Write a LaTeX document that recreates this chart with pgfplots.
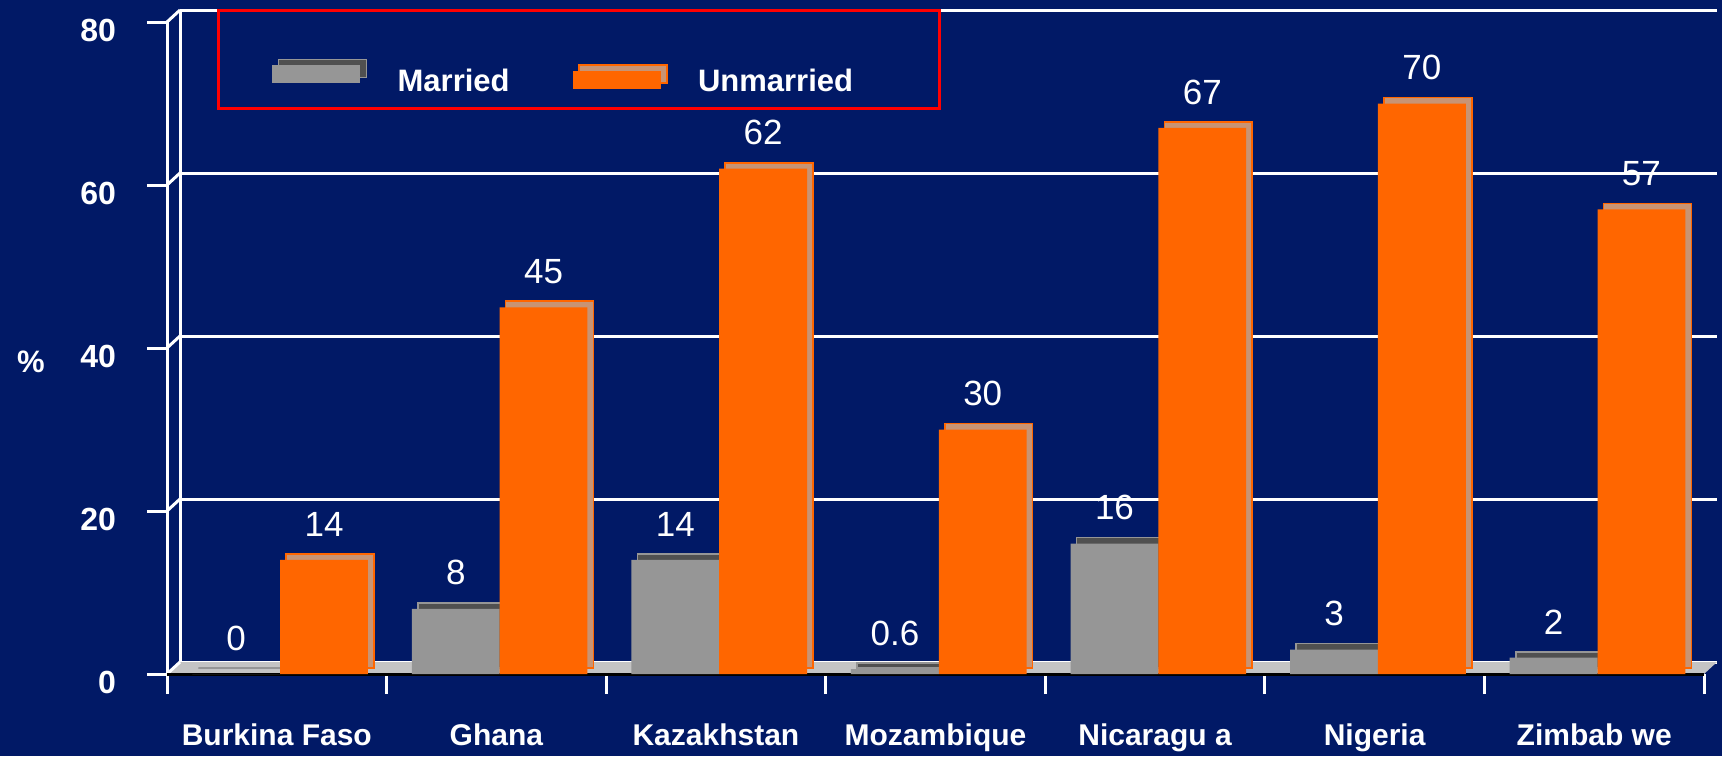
\documentclass[border=0pt]{standalone}
\usepackage{fontspec}
\setmainfont{Liberation Sans}
\usepackage{pgfplots}
\pgfplotsset{compat=1.18}
\definecolor{navy}{HTML}{011966}
\definecolor{barorange}{HTML}{FF6600}
\definecolor{bartan}{HTML}{C89474}
\definecolor{bargrey}{HTML}{969696}
\definecolor{bardark}{HTML}{505050}
\definecolor{floorgrey}{HTML}{C4C4C4}
\begin{document}
\begin{tikzpicture}
\fill[navy] (0,0) rectangle (861pt,378pt);
\path[use as bounding box] (0,0) rectangle (861pt,378pt);
\begin{axis}[
  at={(83.5pt,41pt)}, anchor=south west,
  scale only axis, width=768.5pt, height=326pt,
  xmin=-0.5, xmax=6.5, ymin=0, ymax=80,
  clip=false,
  axis lines=left,
  axis line style={-},
  x axis line style={black, line width=1.5pt},
  y axis line style={white, line width=1.5pt},
  xtick={-0.5,0.5,...,6.5}, xticklabels={,,,,,,,},
  extra x ticks={0,1,2,3,4,5,6},
  extra x tick labels={Burkina Faso, Ghana, Kazakhstan, Mozambique, Nicaragu a, Nigeria, Zimbab we},
  extra x tick style={major tick length=0pt},
  ytick={0,20,...,80},
  tick align=outside, major tick length=10pt,
  tick style={white, line width=1.5pt},
  ymajorgrids,
  major grid style={white, line width=1.5pt, xshift=6.5pt, yshift=6pt},
  /pgf/number format/assume math mode=true,
  tick label style={white},
  xticklabel style={yshift=-21.5pt, font=\fontsize{15}{18}\selectfont\bfseries},
  yticklabel style={anchor=east, xshift=-12pt, yshift=-4.4pt, font=\fontsize{16}{18}\selectfont\bfseries},
  ylabel={\%},
  every axis y label/.style={at={(axis description cs:-0.0885,0.4785)}, anchor=center, white, font=\fontsize{15.5}{18}\selectfont\bfseries},
  every node near coord/.append style={white, font=\fontsize{17.5}{20}\selectfont, yshift=8.2pt},
  legend columns=2,
  legend style={at={(0.0325,1.0199)}, anchor=north west, draw=red, line width=1.5pt, fill=none, text=white,
    font=\fontsize{15.5}{18}\selectfont\bfseries, inner xsep=27pt, inner ysep=0pt,
    nodes={inner ysep=0pt, text height=40.7pt, text depth=8.1pt},
    /tikz/every odd column/.append style={column sep=13.2pt},
    /tikz/every even column/.append style={column sep=29.6pt}},
]
% floor
\fill[floorgrey] (axis cs:-0.5,0) -- (axis cs:6.5,0) -- ([xshift=6.5pt,yshift=6pt]axis cs:6.5,0) -- ([xshift=6.5pt,yshift=6pt]axis cs:-0.5,0) -- cycle;
\draw[white, line width=1.5pt] ([xshift=6.5pt,yshift=6pt]axis cs:-0.5,0) -- ([xshift=6.5pt,yshift=6pt]axis cs:-0.5,80);
\draw[white, line width=1.5pt] (axis cs:-0.5,0) -- ([xshift=6.5pt,yshift=6pt]axis cs:-0.5,0);
\draw[white, line width=1.5pt] (axis cs:-0.5,20) -- ([xshift=6.5pt,yshift=6pt]axis cs:-0.5,20);
\draw[white, line width=1.5pt] (axis cs:-0.5,40) -- ([xshift=6.5pt,yshift=6pt]axis cs:-0.5,40);
\draw[white, line width=1.5pt] (axis cs:-0.5,60) -- ([xshift=6.5pt,yshift=6pt]axis cs:-0.5,60);
\draw[white, line width=1.5pt] (axis cs:-0.5,80) -- ([xshift=6.5pt,yshift=6pt]axis cs:-0.5,80);
\draw[black, line width=1.5pt] (axis cs:-0.5,0) -- (axis cs:6.5,0);
% married
\addplot[ybar, bar width=0.4, bar shift=-0.185, xshift=3pt, yshift=3pt, fill=bardark, draw=bargrey, line width=0.8pt, forget plot]
  coordinates {(0,0) (1,8) (2,14) (3,0.6) (4,16) (5,3) (6,2)};
\addplot[ybar, bar width=0.4, bar shift=-0.185, fill=bargrey, draw=none, nodes near coords,
  every node near coord/.append style={xshift=-20.31pt},
  legend image code/.code={\filldraw[fill=bardark, draw=bargrey, line width=0.8pt] (3pt,-9pt) rectangle (47pt,0pt);
    \fill[bargrey] (0pt,-12pt) rectangle (44pt,-3pt);}]
  coordinates {(0,0) (1,8) (2,14) (3,0.6) (4,16) (5,3) (6,2)};
\addlegendentry{Married}
% unmarried
\addplot[ybar, bar width=0.4, bar shift=0.215, xshift=3pt, yshift=3pt, fill=bartan, draw=barorange, line width=0.8pt, forget plot]
  coordinates {(0,14) (1,45) (2,62) (3,30) (4,67) (5,70) (6,57)};
\addplot[ybar, bar width=0.4, bar shift=0.215, fill=barorange, draw=none, nodes near coords,
  every node near coord/.append style={xshift=23.61pt},
  legend image code/.code={\filldraw[fill=bartan, draw=barorange, line width=0.8pt] (3pt,-11.7pt) rectangle (47pt,-2.7pt);
    \fill[barorange] (0pt,-14.7pt) rectangle (44pt,-5.7pt);}]
  coordinates {(0,14) (1,45) (2,62) (3,30) (4,67) (5,70) (6,57)};
\addlegendentry{Unmarried\hspace*{14.4pt}}
\end{axis}
\end{tikzpicture}
\end{document}
